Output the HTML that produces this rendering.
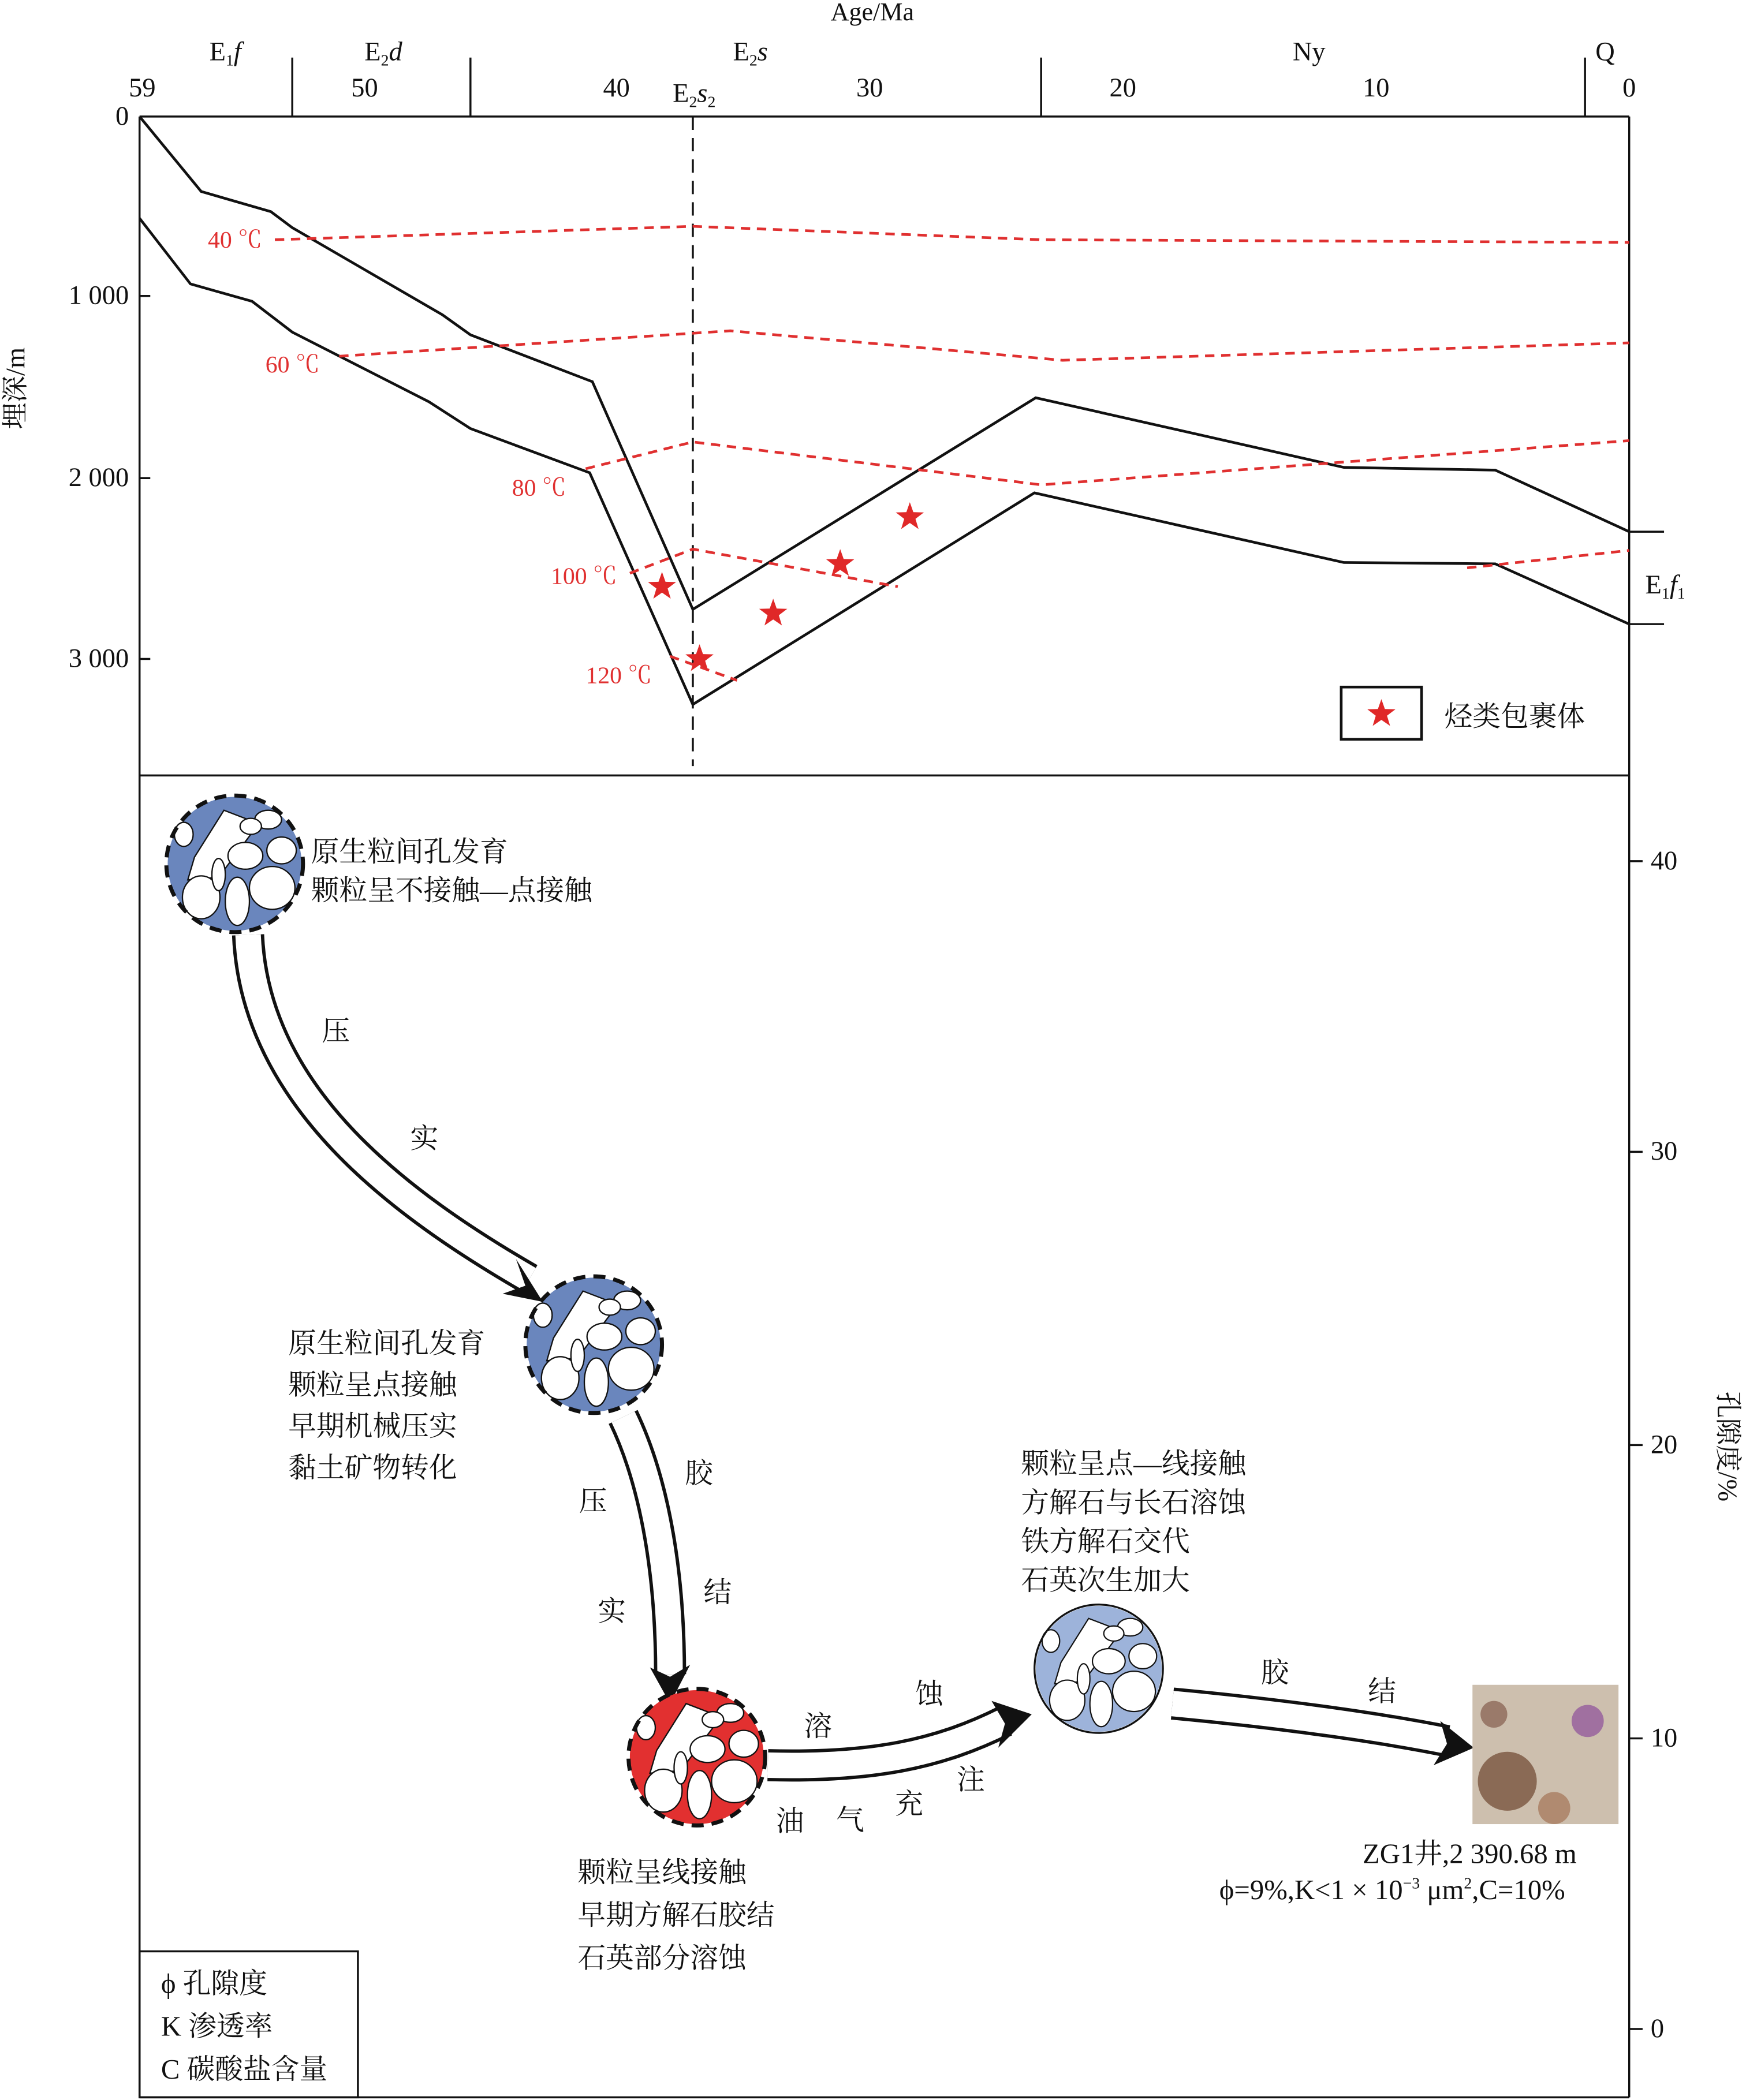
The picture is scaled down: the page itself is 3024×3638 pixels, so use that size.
<!DOCTYPE html>
<html><head><meta charset="utf-8"><style>
html,body{margin:0;padding:0;background:#fff}
svg{display:block}
text{font-family:"Liberation Serif","Noto Serif CJK SC",serif;fill:#111}
.cn{font-family:"Liberation Serif","Noto Serif CJK SC","Noto Sans CJK SC",serif}
.red{fill:#e03030}
</style></head><body>
<svg width="3024" height="3638" viewBox="0 0 1303 1568" xmlns="http://www.w3.org/2000/svg">
<defs>
<g id="star"><polygon points="0,-11 2.6,-3.6 10.5,-3.4 4.2,1.4 6.5,9 0,4.5 -6.5,9 -4.2,1.4 -10.5,-3.4 -2.6,-3.6" fill="#e02828"/></g>
<g id="grains">
<polygon points="-30,-5 -8,-40 18,-30 -12,10 -35,12" fill="#fff" stroke="#111" stroke-width="1"/>
<ellipse cx="-25" cy="25" rx="14" ry="16" fill="#fff" stroke="#111" stroke-width="1"/>
<ellipse cx="2" cy="28" rx="9" ry="18" fill="#fff" stroke="#111" stroke-width="1"/>
<ellipse cx="28" cy="18" rx="17" ry="16" fill="#fff" stroke="#111" stroke-width="1"/>
<ellipse cx="8" cy="-6" rx="13" ry="10" fill="#fff" stroke="#111" stroke-width="1"/>
<ellipse cx="35" cy="-10" rx="11" ry="10" fill="#fff" stroke="#111" stroke-width="1"/>
<ellipse cx="25" cy="-33" rx="10" ry="7" fill="#fff" stroke="#111" stroke-width="1"/>
<ellipse cx="-38" cy="-22" rx="7" ry="9" fill="#fff" stroke="#111" stroke-width="1"/>
<ellipse cx="-12" cy="8" rx="5" ry="12" fill="#fff" stroke="#111" stroke-width="1"/>
<ellipse cx="12" cy="-28" rx="8" ry="6" fill="#fff" stroke="#111" stroke-width="1"/>
</g>
</defs>
<rect width="1303" height="1568" fill="#fff"/>
<text x="651" y="15" font-size="19" text-anchor="middle">Age/Ma</text>
<line x1="104" y1="87" x2="1216" y2="87" stroke="#111" stroke-width="1.5"/>
<g stroke="#111" stroke-width="1.5">
<line x1="218" y1="43" x2="218" y2="87"/><line x1="351" y1="43" x2="351" y2="87"/>
<line x1="777" y1="43" x2="777" y2="87"/><line x1="1183" y1="43" x2="1183" y2="87"/>
<line x1="104" y1="87" x2="104" y2="1566"/><line x1="1216" y1="87" x2="1216" y2="1566"/>
<line x1="104" y1="579" x2="1216" y2="579"/><line x1="104" y1="1566" x2="1216" y2="1566"/>
<line x1="104" y1="221" x2="112" y2="221"/><line x1="104" y1="357" x2="112" y2="357"/><line x1="104" y1="492" x2="112" y2="492"/>
<line x1="1216" y1="643" x2="1226" y2="643"/><line x1="1216" y1="860" x2="1226" y2="860"/><line x1="1216" y1="1079" x2="1226" y2="1079"/><line x1="1216" y1="1298" x2="1226" y2="1298"/><line x1="1216" y1="1515" x2="1226" y2="1515"/>
<line x1="1216" y1="397" x2="1242" y2="397"/><line x1="1216" y1="466" x2="1242" y2="466"/>
</g>
<g font-size="20" text-anchor="middle">
<text x="106" y="72">59</text><text x="272" y="72">50</text><text x="460" y="72">40</text><text x="649" y="72">30</text><text x="838" y="72">20</text><text x="1027" y="72">10</text><text x="1216" y="72">0</text>
<text x="168" y="45">E<tspan font-size="12" dy="4">1</tspan><tspan dy="-4" font-style="italic">f</tspan></text>
<text x="286" y="45">E<tspan font-size="12" dy="4">2</tspan><tspan dy="-4" font-style="italic">d</tspan></text>
<text x="560" y="45">E<tspan font-size="12" dy="4">2</tspan><tspan dy="-4" font-style="italic">s</tspan></text>
<text x="518" y="76">E<tspan font-size="12" dy="4">2</tspan><tspan dy="-4" font-style="italic">s</tspan><tspan font-size="12" dy="4">2</tspan></text>
<text x="977" y="45">Ny</text><text x="1198" y="45">Q</text>
</g>
<g font-size="20" text-anchor="end">
<text x="96" y="93">0</text><text x="96" y="227">1 000</text><text x="96" y="363">2 000</text><text x="96" y="498">3 000</text>
</g>
<g font-size="20">
<text x="1232" y="649">40</text><text x="1232" y="866">30</text><text x="1232" y="1085">20</text><text x="1232" y="1304">10</text><text x="1232" y="1521">0</text>
<text x="1228" y="443">E<tspan font-size="12" dy="4">1</tspan><tspan dy="-4" font-style="italic">f</tspan><tspan font-size="12" dy="4">1</tspan></text>
</g>
<text class="cn" font-size="20" transform="translate(18,290) rotate(-90)" text-anchor="middle">埋深/m</text>
<text class="cn" font-size="20" transform="translate(1283,1080) rotate(90)" text-anchor="middle">孔隙度/%</text>
<line x1="517" y1="87" x2="517" y2="572" stroke="#111" stroke-width="1.5" stroke-dasharray="10,6"/>
<polyline fill="none" stroke="#111" stroke-width="2" points="104,87 150,143 202,158 218,170 330,235 351,250 442,285 517,455 773,297 1003,349 1116,351 1216,397"/>
<polyline fill="none" stroke="#111" stroke-width="2" points="104,163 142,212 188,225 218,248 320,300 351,320 440,353 517,526 772,368 1003,420 1116,421 1216,466"/>
<g fill="none" stroke="#e03030" stroke-width="2" stroke-dasharray="7,5">
<polyline points="205,179 517,169 777,179 1216,181"/>
<polyline points="253,266 545,247 793,269 1216,256"/>
<polyline points="437,350 517,330 777,362 1216,329"/>
<polyline points="470,428 517,410 670,438"/>
<polyline points="1095,424 1216,411"/>
<polyline points="500,490 550,508"/>
</g>
<g font-size="18">
<text x="155" y="185" class="red">40 ℃</text><text x="198" y="278" class="red">60 ℃</text><text x="382" y="370" class="red">80 ℃</text><text x="411" y="436" class="red">100 ℃</text><text x="437" y="510" class="red">120 ℃</text>
</g>
<use href="#star" x="494" y="438"/><use href="#star" x="522" y="492"/><use href="#star" x="577" y="458"/><use href="#star" x="627" y="421"/><use href="#star" x="679" y="386"/>
<rect x="1001" y="513" width="60" height="39" fill="none" stroke="#111" stroke-width="2"/>
<use href="#star" x="1031" y="533"/>
<text class="cn" x="1078" y="542" font-size="21">烃类包裹体</text>
<g fill="none">
<path d="M185,698 C190,820 300,900 395,955" stroke="#111" stroke-width="24"/>
<path d="M185,698 C190,820 300,900 395,955" stroke="#fff" stroke-width="19"/>
<path d="M465,1058 C490,1110 500,1180 500,1250" stroke="#111" stroke-width="24"/>
<path d="M465,1058 C490,1110 500,1180 500,1250" stroke="#fff" stroke-width="19"/>
<path d="M573,1318 C650,1320 700,1310 750,1285" stroke="#111" stroke-width="24"/>
<path d="M573,1318 C650,1320 700,1310 750,1285" stroke="#fff" stroke-width="19"/>
<path d="M875,1272 C960,1280 1030,1290 1080,1300" stroke="#111" stroke-width="24"/>
<path d="M875,1272 C960,1280 1030,1290 1080,1300" stroke="#fff" stroke-width="19"/>
</g>
<polygon points="385,940 405,972 375,966 392,960" fill="#111"/>
<polygon points="485,1245 500,1272 515,1243 500,1252" fill="#111"/>
<polygon points="740,1270 770,1280 745,1305 750,1287" fill="#111"/>
<polygon points="1075,1285 1100,1305 1070,1318 1080,1302" fill="#111"/>
<g transform="translate(175,645)"><circle r="50" fill="#6a86bd"/><use href="#grains"/><circle r="51" fill="none" stroke="#111" stroke-width="3" stroke-dasharray="9,6"/></g>
<g transform="translate(443,1004)"><circle r="50" fill="#6a86bd"/><use href="#grains"/><circle r="51" fill="none" stroke="#111" stroke-width="3" stroke-dasharray="9,6"/></g>
<g transform="translate(520,1312)"><circle r="50" fill="#e23030"/><use href="#grains"/><circle r="51" fill="none" stroke="#111" stroke-width="3" stroke-dasharray="9,6"/></g>
<g transform="translate(820,1246) scale(0.94)"><circle r="50" fill="#9db3da"/><use href="#grains"/><circle r="51" fill="none" stroke="#111" stroke-width="1.5"/></g>
<rect x="1099" y="1258" width="109" height="104" fill="#cdbfae"/>
<circle cx="1125" cy="1330" r="22" fill="#8a6a55"/><circle cx="1185" cy="1285" r="12" fill="#a070a0"/><circle cx="1115" cy="1280" r="10" fill="#9a7a6a"/><circle cx="1160" cy="1350" r="12" fill="#b08a70"/>
<g class="cn" font-size="21">
<text x="232" y="643">原生粒间孔发育</text><text x="232" y="672">颗粒呈不接触—点接触</text>
<text x="215" y="1010">原生粒间孔发育</text><text x="215" y="1041">颗粒呈点接触</text><text x="215" y="1072">早期机械压实</text><text x="215" y="1103">黏土矿物转化</text>
<text x="762" y="1100">颗粒呈点—线接触</text><text x="762" y="1129">方解石与长石溶蚀</text><text x="762" y="1158">铁方解石交代</text><text x="762" y="1187">石英次生加大</text>
<text x="431" y="1405">颗粒呈线接触</text><text x="431" y="1437">早期方解石胶结</text><text x="431" y="1469">石英部分溶蚀</text>
<text x="240" y="777">压</text><text x="306" y="857">实</text>
<text x="432" y="1128">压</text><text x="446" y="1210">实</text><text x="511" y="1107">胶</text><text x="525" y="1196">结</text>
<text x="600" y="1296">溶</text><text x="683" y="1272">蚀</text>
<text x="579" y="1367">油</text><text x="624" y="1366">气</text><text x="668" y="1354">充</text><text x="714" y="1336">注</text>
<text x="941" y="1256">胶</text><text x="1021" y="1270">结</text>
<text x="1017" y="1391">ZG1井,2 390.68 m</text>
<text x="910" y="1418">ϕ=9%,K&lt;1 × 10<tspan font-size="12" dy="-8">−3</tspan><tspan dy="8"> μm</tspan><tspan font-size="12" dy="-8">2</tspan><tspan dy="8">,C=10%</tspan></text>
</g>
<rect x="104" y="1457" width="163" height="109" fill="none" stroke="#111" stroke-width="1.5"/>
<g class="cn" font-size="21">
<text x="120" y="1488">ϕ 孔隙度</text><text x="120" y="1520">K 渗透率</text><text x="120" y="1552">C 碳酸盐含量</text>
</g>
</svg>
</body></html>
